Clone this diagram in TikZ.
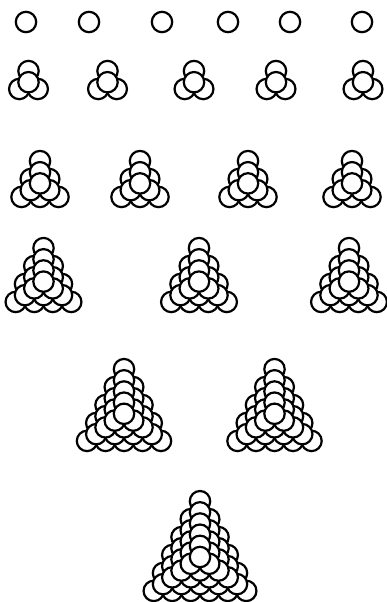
\documentclass[tikz,border=0pt]{standalone}
\usepackage{tikz}

% sizes of the balls, in pixels of the scan
\newcommand{\ballgap}{18.5}  % distance of two touching balls
\newcommand{\ballr}{10.2}    % drawn radius
\newcommand{\yfac}{1.12}     % stretch of the view in depth
\newcommand{\zlift}{0.8}     % lift of each higher layer

% one pile: #1 = number of layers, (#2,#3) = centre of its base
\newcommand{\drawpile}[3]{%
  \foreach \k in {#1,...,1}{
    \pgfmathsetmacro{\zoff}{\zlift*(#1-\k)}
    \pgfmathtruncatemacro{\km}{\k-1}
    % hide what lies below this layer
    \foreach \j in {0,...,\km}{
      \foreach \m in {0,...,\j}{
        \fill[white] ({#2+(\m-\j/2)*\ballgap}, {#3+\yfac*0.866*\ballgap*(\j-2*\km/3)-\zoff})
          circle[radius=\ballr pt];
      }
    }
    % outlines of this layer
    \foreach \j in {0,...,\km}{
      \foreach \m in {0,...,\j}{
        \draw ({#2+(\m-\j/2)*\ballgap}, {#3+\yfac*0.866*\ballgap*(\j-2*\km/3)-\zoff})
          circle[radius=\ballr pt];
      }
    }
  }%
}

\begin{document}
\begin{tikzpicture}[x=1pt, y=-1pt, line width=2.2pt]
  \useasboundingbox (0,0) rectangle (386,602);

  % single balls
  \foreach \xpos in {26, 89, 162, 228, 290, 362}
    \drawpile{1}{\xpos}{22};

  % piles of four
  \foreach \xpos in {28.5, 107.5, 194, 276, 363}
    \drawpile{2}{\xpos}{83};

  % piles of ten
  \foreach \xpos in {40, 140, 248, 352}
    \drawpile{3}{\xpos}{185};

  % piles of twenty
  \foreach \xpos in {43.5, 199, 349}
    \drawpile{4}{\xpos}{284};

  % piles of thirty-five
  \foreach \xpos in {124, 274.5}
    \drawpile{5}{\xpos}{417};

  % pile of fifty-six
  \drawpile{6}{200}{561};
\end{tikzpicture}
\end{document}
